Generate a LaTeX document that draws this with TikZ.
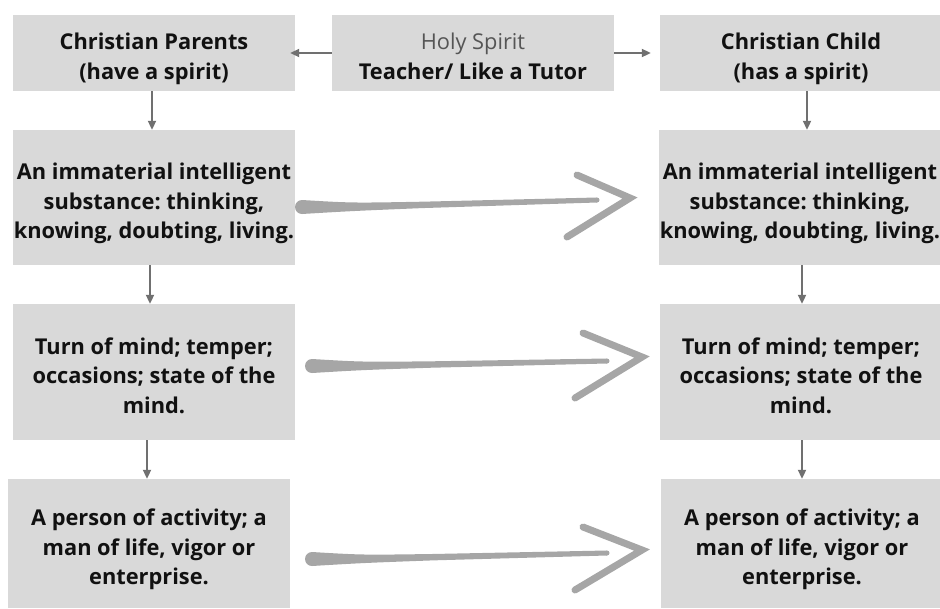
\documentclass[tikz,border=0pt]{standalone}
\usepackage{fontspec}
\setmainfont{Open Sans}
\frenchspacing
\usetikzlibrary{arrows.meta}
\definecolor{boxgray}{HTML}{D9D9D9}
\definecolor{conngray}{HTML}{707070}
\definecolor{skgray}{HTML}{A6A6A6}
\definecolor{txt}{HTML}{111111}
\definecolor{lighttxt}{HTML}{555555}
\tikzset{
  box/.style={fill=boxgray, inner sep=0pt, align=center, text=txt,
    font=\fontsize{21.8}{29.5}\selectfont\bfseries, minimum width=282pt, text depth=1.5pt},
  twoline/.style={box, text height=54pt},
  threeline/.style={box, text height=83.5pt},
  conn/.style={draw=conngray, line width=2pt, -{Triangle[length=9pt,width=8pt]}},
  skhead/.style={draw=skgray, line width=7pt, line cap=round, line join=miter},
}
\newcommand{\skshaft}[4]{%
  \fill[skgray] (#1,#2-7) .. controls (#1+50,#2-4) .. (#1+120,#2+0.3*#4-0.3*#2-3.2)
     -- (#3,#4-2.5) -- (#3,#4+2.5) -- (#1+120,#2+0.3*#4-0.3*#2+3.2)
     .. controls (#1+50,#2+4) .. (#1,#2+7) -- cycle;
  \fill[skgray] (#1,#2) circle (7);
  \fill[skgray] (#3,#4) circle (2.5);
}
\begin{document}
\begin{tikzpicture}[x=1pt,y=-1pt]
\useasboundingbox (0,0) rectangle (940,608);
\node[twoline, minimum height=76pt] (p1) at (154,53) {Christian Parents\\(have a spirit)};
\node[twoline, minimum height=76pt] (hs) at (473,53) {{\mdseries\color{lighttxt}Holy Spirit}\\Teacher/ Like a Tutor};
\node[twoline, minimum height=76pt] (c1) at (801,53) {Christian Child\\(has a spirit)};
\node[threeline, minimum height=135pt] (p2) at (154,197.5) {An immaterial intelligent\\substance: thinking,\\knowing, doubting, living.};
\node[threeline, minimum height=135pt] (c2) at (800,197.5) {An immaterial intelligent\\substance: thinking,\\knowing, doubting, living.};
\node[threeline, minimum height=136pt] (p3) at (154,372) {Turn of mind; temper;\\occasions; state of the\\mind.};
\node[threeline, minimum height=136pt] (c3) at (801,372) {Turn of mind; temper;\\occasions; state of the\\mind.};
\node[threeline, minimum height=129pt] (p4) at (149,543.5) {A person of activity; a\\man of life, vigor or\\enterprise.};
\node[threeline, minimum height=129pt] (c4) at (802,543.5) {A person of activity; a\\man of life, vigor or\\enterprise.};
% connectors
\draw[conn] (hs.west) -- ([xshift=-5pt]p1.east);
\draw[conn] (hs.east) -- ([xshift=-9pt]c1.west);
\draw[conn] ([xshift=-2pt]p1.south) -- ([xshift=-2pt]p2.north);
\draw[conn] ([xshift=-4pt]p2.south) -- ([xshift=-4pt]p3.north);
\draw[conn] ([xshift=-7pt]p3.south) -- ([xshift=-2pt]p4.north);
\draw[conn] ([xshift=6pt]c1.south) -- ([xshift=7pt]c2.north);
\draw[conn] ([xshift=2pt]c2.south) -- ([xshift=1pt]c3.north);
\draw[conn] ([xshift=1pt]c3.south) -- ([xshift=0pt]c4.north);
% sketchy arrows
\skshaft{302}{207}{597}{200}
\draw[skhead] (577,175) -- (630,198) -- (567,237);
\skshaft{312}{366}{607}{361}
\draw[skhead] (583,333) -- (642,357) -- (575,398);
\skshaft{312}{559}{607}{553}
\draw[skhead] (583,527) -- (642,550) -- (575,590);
\end{tikzpicture}
\end{document}
